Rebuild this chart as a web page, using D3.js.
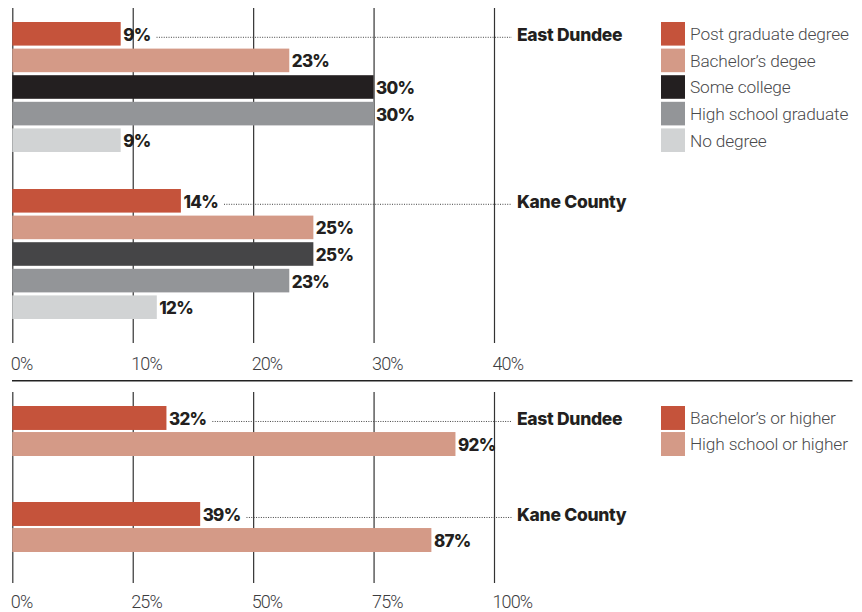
<!DOCTYPE html>
<html>
<head>
<meta charset="utf-8">
<script src="https://cdn.jsdelivr.net/npm/d3@7"></script>
<style>
  html, body { margin: 0; padding: 0; background: #fff; }
  svg { display: block; }
  .tick-label { font-family: Roboto, sans-serif; font-weight: 300; font-size: 18px; fill: #3d3d3f; letter-spacing: -0.9px; }
  .legend-label { font-family: Roboto, sans-serif; font-weight: 300; font-size: 17.3px; fill: #4a4a4c; letter-spacing: -0.15px; }
  .value-label { font-family: Inter, sans-serif; font-weight: 800; font-size: 17px; fill: #231f20; letter-spacing: -0.7px; }
  .county-label { font-family: Inter, sans-serif; font-weight: 800; font-size: 17.5px; fill: #231f20; letter-spacing: -0.3px; }
</style>
</head>
<body>
<svg id="chart" width="862" height="612"></svg>
<script>
// Educational attainment, East Dundee vs. Kane County
const counties = ["East Dundee", "Kane County"];

// Highest level completed (share of adults, %)
const levels = ["Post graduate degree", "Bachelor’s degee", "Some college", "High school graduate", "No degree"];
const eastDundeeLevels = [9, 23, 30, 30, 9];
const kaneCountyLevels = [14, 25, 25, 23, 12];
const levelTicks = [0, 10, 20, 30, 40];

// Cumulative attainment (share of adults, %)
const attainment = ["Bachelor’s or higher", "High school or higher"];
const eastDundeeAttainment = [32, 92];
const kaneCountyAttainment = [39, 87];
const attainmentTicks = [0, 25, 50, 75, 100];

// Colours
const levelColors = ["#c5533b", "#d49a87", "#231f20", "#939598", "#d1d3d4"];
const kaneSomeCollege = "#454547";
const attainmentColors = ["#c5533b", "#d49a87"];

const svg = d3.select("#chart");

const plotLeft = 12.3, plotRight = 494;
const leaderEnd = 512, countyX = 517;
const legendSwatchX = 661, legendTextX = 690;

function drawPanel(opts) {
  const g = svg.append("g");
  const x = d3.scaleLinear().domain([0, opts.max]).range([plotLeft, plotRight]);

  const outer = d3.scaleBand().domain(counties).range(opts.groupRange);
  const inner = d3.scaleBand().domain(opts.series).range([0, opts.innerSpan]).paddingInner(opts.pad);

  // gridlines + tick labels
  const axis = d3.axisBottom(x)
    .tickValues(opts.ticks)
    .tickSize(-(opts.gridBottom - opts.gridTop))
    .tickFormat(d => d + "%");
  const ax = g.append("g")
    .attr("transform", `translate(0,${opts.gridBottom})`)
    .call(axis);
  ax.select(".domain").remove();
  ax.selectAll(".tick line").attr("stroke", "#333").attr("stroke-width", 1.2);
  ax.selectAll(".tick text")
    .attr("class", "tick-label")
    .attr("text-anchor", "start")
    .attr("x", -2)
    .attr("y", opts.tickBaseline)
    .attr("dy", 0)
    .attr("fill", null);

  counties.forEach((county, ci) => {
    const values = opts.values[ci];
    const gy = outer(county);
    const rows = g.append("g").attr("transform", `translate(0,${gy})`);

    rows.selectAll("rect")
      .data(values)
      .join("rect")
      .attr("x", x(0))
      .attr("y", (d, i) => inner(opts.series[i]))
      .attr("width", d => x(d) - x(0))
      .attr("height", inner.bandwidth())
      .attr("fill", (d, i) => opts.color(ci, i));

    const labels = rows.selectAll("text.value-label")
      .data(values)
      .join("text")
      .attr("class", "value-label")
      .attr("x", d => x(d) + 2.5)
      .attr("y", (d, i) => inner(opts.series[i]) + inner.bandwidth() / 2 + 7)
      .text(d => d + "%");

    // dotted leader from first bar's label to the county name
    const first = labels.nodes()[0];
    const cy = inner(opts.series[0]) + inner.bandwidth() / 2;
    const startX = x(values[0]) + 2.5 + first.getComputedTextLength() + 6;
    rows.append("line")
      .attr("x1", startX).attr("x2", leaderEnd)
      .attr("y1", cy + 3.5).attr("y2", cy + 3.5)
      .attr("stroke", "#444")
      .attr("stroke-width", 1)
      .attr("stroke-dasharray", "1,1.4");

    rows.append("text")
      .attr("class", "county-label")
      .attr("x", countyX)
      .attr("y", cy + 7)
      .text(county);
  });

  // legend, aligned to the first group's rows
  const ly = outer(counties[0]);
  const leg = g.append("g").attr("transform", `translate(0,${ly})`);
  opts.series.forEach((s, i) => {
    leg.append("rect")
      .attr("x", legendSwatchX)
      .attr("y", inner(s))
      .attr("width", 24)
      .attr("height", inner.bandwidth())
      .attr("fill", opts.legendColors[i]);
    leg.append("text")
      .attr("class", "legend-label")
      .attr("x", legendTextX)
      .attr("y", inner(s) + inner.bandwidth() / 2 + 6.3)
      .text(s);
  });
}

drawPanel({
  series: levels,
  values: [eastDundeeLevels, kaneCountyLevels],
  max: 40,
  ticks: levelTicks,
  groupRange: [22, 22 + 167 * 2],
  innerSpan: 130,
  pad: 0.113,
  gridTop: 8,
  gridBottom: 343,
  tickBaseline: 26.5,
  color: (ci, i) => (ci === 1 && i === 2) ? kaneSomeCollege : levelColors[i],
  legendColors: levelColors
});

// divider between the two panels
svg.append("line")
  .attr("x1", 12).attr("x2", 852.5)
  .attr("y1", 380.7).attr("y2", 380.7)
  .attr("stroke", "#222")
  .attr("stroke-width", 1.5);

drawPanel({
  series: attainment,
  values: [eastDundeeAttainment, kaneCountyAttainment],
  max: 100,
  ticks: attainmentTicks,
  groupRange: [406, 406 + 96 * 2],
  innerSpan: 50,
  pad: 0.08,
  gridTop: 392,
  gridBottom: 583,
  tickBaseline: 24.5,
  color: (ci, i) => attainmentColors[i],
  legendColors: attainmentColors
});
</script>
</body>
</html>
